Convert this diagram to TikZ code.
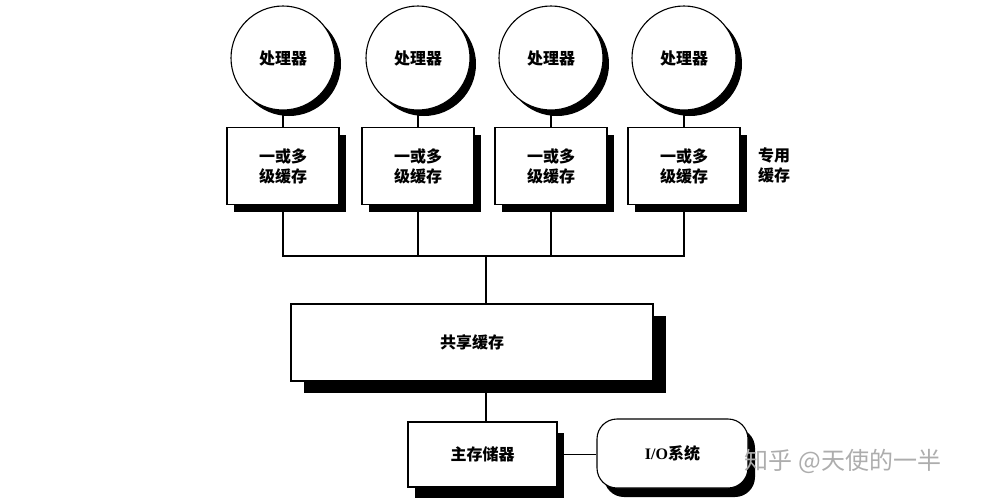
\documentclass[tikz,border=0pt]{standalone}
\usepackage{fontspec}
\usetikzlibrary{shadows}
\newfontfamily\cjk{Noto Sans CJK SC}
\newfontfamily\latinserif{Liberation Serif}
\begin{document}
\begin{tikzpicture}[x=1pt,y=-1pt,
  shad/.style={drop shadow={shadow xshift=#1, shadow yshift=-#1, fill=black, opacity=1}},
  txt/.style={font=\cjk\bfseries\fontsize{16}{20}\selectfont},
  proc/.style={circle, draw, line width=1.1pt, fill=white, minimum size=104pt, inner sep=0pt, txt, shad=6pt},
  cachebox/.style={rectangle, draw, line width=1.1pt, fill=white, minimum width=112pt, minimum height=77pt,
    inner sep=0pt, align=center, txt, shad=7pt},
  wire/.style={line width=1.3pt},
  lbl/.style={align=center, txt, inner sep=0pt}
]
\useasboundingbox (0,0) rectangle (986,501);
\coordinate (bus) at (486,256);
% processors
\node[proc] (p1) at (283,58) {处理器};
\node[proc] (p2) at (418,58) {处理器};
\node[proc] (p3) at (551,58) {处理器};
\node[proc] (p4) at (684,58) {处理器};
% private caches
\node[cachebox] (c1) at (283,166) {一或多\\级缓存};
\node[cachebox] (c2) at (418,166) {一或多\\级缓存};
\node[cachebox] (c3) at (551,166) {一或多\\级缓存};
\node[cachebox] (c4) at (684,166) {一或多\\级缓存};
\node[lbl] (priv) at (774,165) {专用\\缓存};
% shared cache
\node[rectangle, draw, line width=1.1pt, fill=white, minimum width=362pt, minimum height=77pt,
  inner sep=0pt, txt,
  drop shadow={shadow xshift=13pt, shadow yshift=-12pt, fill=black, opacity=1}] (sh) at (472,342.5) {共享缓存};
% main memory
\node[rectangle, draw, line width=1.1pt, fill=white, minimum width=149pt, minimum height=65pt,
  inner sep=0pt, txt,
  drop shadow={shadow xshift=7pt, shadow yshift=-11pt, fill=black, opacity=1}] (mm) at (482.5,454.5) {主存储器};
% I/O system
\node[rectangle, rounded corners=20pt, draw, line width=1.1pt, fill=white, minimum width=151pt, minimum height=69pt,
  inner sep=0pt, txt,
  drop shadow={shadow xshift=7pt, shadow yshift=-9pt, fill=black, opacity=1}] (io) at (672.5,453.5) {{\latinserif\bfseries I/O}系统};
% connectors
\foreach \i in {1,2,3,4} {
  \draw[wire] (p\i) -- (c\i);
  \draw[wire] (c\i.south) |- (bus);
}
\draw[wire] (bus) -- (bus |- sh.north);
\draw[wire] (sh.south -| bus) -- (mm.north -| bus);
\draw[wire] (mm.east) -- (mm.east -| io.west);
% watermark
\node[font=\cjk\fontsize{24}{24}\selectfont, text=black!32, inner sep=0pt] (wm) at (843,461) {知乎 @天使的一半};
\end{tikzpicture}
\end{document}
